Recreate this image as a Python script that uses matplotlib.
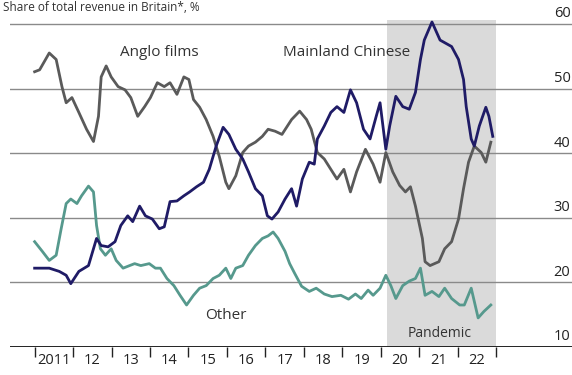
import matplotlib.pyplot as plt

plt.rcParams['font.family'] = ['Open Sans', 'DejaVu Sans']

# Share of total box-office revenue, %
anglo_t = [2011.00, 2011.13, 2011.38, 2011.56, 2011.71, 2011.82, 2011.97, 2012.15, 2012.35,
           2012.53, 2012.66, 2012.73, 2012.86, 2012.99, 2013.17, 2013.35, 2013.50, 2013.68,
           2013.86, 2014.01, 2014.19, 2014.37, 2014.52, 2014.70, 2014.88, 2015.01, 2015.13,
           2015.29, 2015.46, 2015.64, 2015.80, 2015.97, 2016.05, 2016.23, 2016.41, 2016.56,
           2016.74, 2016.92, 2017.07, 2017.25, 2017.43, 2017.68, 2017.89, 2018.07, 2018.19,
           2018.35, 2018.53, 2018.70, 2018.86, 2019.04, 2019.21, 2019.37, 2019.60, 2019.80,
           2019.98, 2020.13, 2020.31, 2020.49, 2020.64, 2020.77, 2020.90, 2021.08, 2021.15,
           2021.28, 2021.51, 2021.66, 2021.84, 2022.02, 2022.15, 2022.28, 2022.43, 2022.61,
           2022.73, 2022.86]
anglo = [52.6, 52.9, 55.5, 54.5, 50.3, 47.8, 48.6, 46.3, 43.7,
         41.8, 45.7, 51.8, 53.5, 51.8, 50.3, 49.8, 48.6, 45.7,
         47.2, 48.6, 50.9, 50.3, 50.9, 49.1, 51.8, 51.4, 48.3,
         47.1, 45.2, 42.6, 39.5, 35.5, 34.5, 36.5, 40.1, 41.1,
         41.7, 42.6, 43.7, 43.4, 42.9, 45.2, 46.5, 45.2, 43.7,
         40.1, 39.1, 37.5, 36.0, 37.5, 34.0, 37.1, 40.6, 38.3,
         35.5, 40.1, 37.1, 35.0, 34.0, 34.8, 31.8, 26.8, 23.2,
         22.6, 23.2, 25.2, 26.3, 29.8, 34.5, 38.6, 41.1, 40.1,
         38.6, 41.7]

chinese_t = [2011.00, 2011.38, 2011.64, 2011.82, 2011.94, 2012.15, 2012.40, 2012.61, 2012.73,
             2012.91, 2013.09, 2013.24, 2013.42, 2013.55, 2013.73, 2013.88, 2014.06, 2014.24,
             2014.37, 2014.52, 2014.70, 2014.88, 2015.03, 2015.21, 2015.39, 2015.54, 2015.72,
             2015.90, 2016.05, 2016.23, 2016.41, 2016.56, 2016.74, 2016.92, 2017.05, 2017.17,
             2017.33, 2017.51, 2017.68, 2017.81, 2017.96, 2018.14, 2018.27, 2018.35, 2018.53,
             2018.70, 2018.86, 2019.04, 2019.21, 2019.37, 2019.55, 2019.72, 2019.88, 2019.98,
             2020.13, 2020.23, 2020.39, 2020.57, 2020.74, 2020.90, 2021.03, 2021.13, 2021.33,
             2021.54, 2021.66, 2021.84, 2022.02, 2022.15, 2022.22, 2022.35, 2022.43, 2022.56,
             2022.73, 2022.81, 2022.91]
chinese = [22.2, 22.2, 21.7, 21.1, 19.8, 21.7, 22.6, 26.8, 25.7,
           25.5, 26.3, 28.8, 30.3, 29.4, 31.8, 30.3, 29.8, 28.3,
           28.6, 32.5, 32.6, 33.4, 34.0, 34.8, 35.5, 37.5, 41.1,
           44.0, 42.9, 40.6, 39.1, 37.1, 34.5, 33.4, 30.3, 29.8,
           30.9, 32.9, 34.5, 31.8, 36.0, 38.6, 38.3, 42.2, 44.2,
           46.3, 47.2, 46.3, 49.8, 47.8, 43.7, 42.2, 45.7, 47.8,
           40.6, 44.2, 48.8, 47.2, 46.8, 49.4, 54.5, 57.5, 60.3,
           57.5, 57.1, 56.5, 54.5, 51.4, 47.2, 42.2, 41.1, 44.2,
           47.1, 45.7, 42.6]

other_t = [2011.00, 2011.20, 2011.38, 2011.56, 2011.69, 2011.82, 2011.94, 2012.10, 2012.22,
           2012.40, 2012.53, 2012.61, 2012.71, 2012.84, 2012.99, 2013.12, 2013.30, 2013.47,
           2013.60, 2013.76, 2013.98, 2014.14, 2014.27, 2014.44, 2014.62, 2014.78, 2014.95,
           2015.13, 2015.29, 2015.46, 2015.64, 2015.80, 2015.97, 2016.10, 2016.23, 2016.41,
           2016.56, 2016.74, 2016.92, 2017.07, 2017.20, 2017.33, 2017.51, 2017.63, 2017.76,
           2017.94, 2018.14, 2018.32, 2018.53, 2018.73, 2018.96, 2019.16, 2019.34, 2019.49,
           2019.67, 2019.80, 2019.98, 2020.13, 2020.26, 2020.39, 2020.57, 2020.74, 2020.90,
           2021.03, 2021.15, 2021.33, 2021.51, 2021.66, 2021.84, 2022.05, 2022.17, 2022.35,
           2022.53, 2022.68, 2022.86]
other = [26.3, 24.8, 23.4, 24.2, 28.3, 32.2, 32.9, 32.2, 33.4,
         34.9, 34.0, 28.8, 25.2, 24.2, 25.2, 23.4, 22.2, 22.6,
         22.9, 22.6, 22.9, 22.2, 22.2, 20.6, 19.5, 18.0, 16.5,
         18.0, 19.1, 19.5, 20.6, 21.1, 22.2, 20.6, 22.2, 22.6,
         24.2, 25.7, 26.8, 27.2, 27.8, 26.8, 24.8, 22.9, 21.4,
         19.4, 18.6, 19.1, 18.2, 17.8, 18.0, 17.4, 18.2, 17.5,
         18.8, 18.0, 19.1, 21.1, 19.5, 17.5, 19.5, 20.2, 20.6,
         22.2, 18.0, 18.6, 17.8, 19.1, 17.5, 16.5, 16.5, 19.1,
         14.5, 15.5, 16.5]

years = list(range(2011, 2023))
year_labels = ['2011'] + [str(y)[2:] for y in years[1:]]
gridvals = [20, 30, 40, 50, 60]
pandemic = (2020.17, 2023.0)

fig = plt.figure(figsize=(5.72, 3.75), dpi=100)
ax = fig.add_axes([0.0175, 0.0747, 0.9825, 0.8787])
ax.set_xlim(2010.36, 2024.97)
ax.set_ylim(10, 61)

# pandemic shading
ax.fill_between(pandemic, 10, 60.6, color='#dadada', zorder=0, lw=0)

for v in gridvals:
    ax.axhline(v, color='#8a8a8a', lw=1.0, zorder=1)
ax.axhline(10, color='#222222', lw=1.4, zorder=5)
for v in gridvals + [10]:
    ax.text(2024.93, v + 0.4, str(v), ha='right', va='bottom', fontsize=10.5, color='#222222')

ax.plot(other_t, other, color='#56998d', lw=2.0, zorder=3)
ax.plot(anglo_t, anglo, color='#5a5a5a', lw=2.0, zorder=3)
ax.plot(chinese_t, chinese, color='#1f1b66', lw=2.0, zorder=4)

ax.text(2014.24, 55.1, 'Anglo films', ha='center', va='baseline', fontsize=11, color='#333333')
ax.text(2019.1, 55.1, 'Mainland Chinese', ha='center', va='baseline', fontsize=11, color='#333333')
ax.text(2015.97, 14.3, 'Other', ha='center', va='baseline', fontsize=11, color='#333333')
ax.text(2021.54, 11.6, 'Pandemic', ha='center', va='baseline', fontsize=10, color='#333333')

# year boundaries as ticks, labels centred in each year
ax.set_xticks(years + [2023])
ax.set_xticklabels([])
ax.set_xticks([y + 0.5 for y in years], minor=True)
ax.set_xticklabels(year_labels, minor=True, fontsize=10.5, color='#222222')
ax.tick_params(axis='x', which='major', length=7, width=1, color='#222222', direction='out')
ax.tick_params(axis='x', which='minor', length=0, pad=4)
ax.set_yticks([])
for s in ax.spines.values():
    s.set_visible(False)

fig.text(0.005, 0.997, 'Share of total revenue in Britain*, %', ha='left', va='top',
         fontsize=8.5, color='#333333')

fig.savefig('out.png', dpi=100)
